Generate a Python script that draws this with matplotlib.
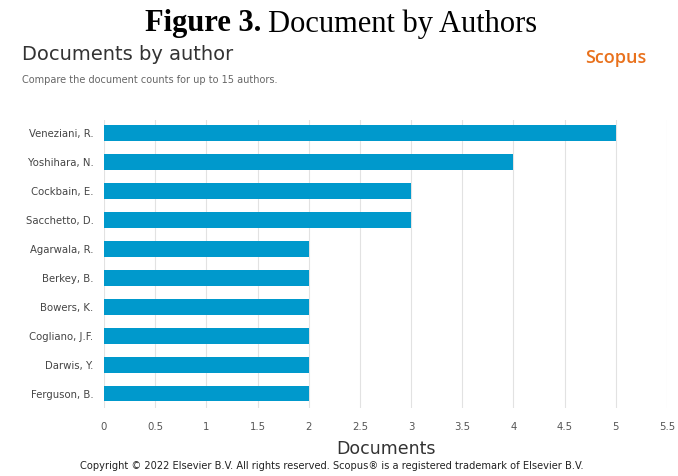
import matplotlib
matplotlib.use("Agg")
import matplotlib.pyplot as plt

authors = ["Veneziani, R.", "Yoshihara, N.", "Cockbain, E.", "Sacchetto, D.",
           "Agarwala, R.", "Berkey, B.", "Bowers, K.", "Cogliano, J.F.",
           "Darwis, Y.", "Ferguson, B."]
documents = [5, 4, 3, 3, 2, 2, 2, 2, 2, 2]
xticks = [0, 0.5, 1, 1.5, 2, 2.5, 3, 3.5, 4, 4.5, 5, 5.5]
xtick_labels = ["0", "0.5", "1", "1.5", "2", "2.5", "3", "3.5", "4", "4.5", "5", "5.5"]

W, H = 678, 476
fig = plt.figure(figsize=(W / 100, H / 100), dpi=100)
fig.patch.set_facecolor("white")

left, right, top, bottom = 104, 667, 120, 408
ax = fig.add_axes([left / W, 1 - bottom / H, (right - left) / W, (bottom - top) / H])

y = list(range(len(authors)))
ax.barh(y, documents, height=0.55, color="#0099cc", zorder=3)
ax.set_ylim(len(authors) - 0.5, -0.45)
ax.set_xlim(0, 5.5)
ax.set_yticks(y)
ax.set_yticklabels(authors, fontsize=7.3, color="#444444")
ax.set_xticks(xticks)
ax.set_xticklabels(xtick_labels, fontsize=7.3, color="#555555")
ax.tick_params(axis="x", length=0, pad=10)
ax.tick_params(axis="y", length=0, pad=7.5)
ax.grid(axis="x", color="#e2e2e2", linewidth=0.8, zorder=0)
for s in ax.spines.values():
    s.set_visible(False)
ax.set_xlabel("Documents", fontsize=12.5, color="#333333", labelpad=6)

t1 = fig.text(145 / W, 1 - 24 / H, "Figure 3.", fontsize=22, fontweight="bold",
              family="Liberation Serif", va="center", ha="left", color="black")
fig.canvas.draw()
bb = t1.get_window_extent()
fig.text(bb.x1 / W + 7 / W, 1 - 24 / H, "Document by Authors", fontsize=22,
         family="Liberation Serif", va="center", ha="left", color="black")

fig.text(22 / W, 1 - 55 / H, "Documents by author", fontsize=14, color="#333333",
         va="center", ha="left")
fig.text(646 / W, 1 - 58 / H, "Scopus", fontsize=13, color="#e9711c",
         va="center", ha="right", family="Open Sans", fontweight="semibold")
fig.text(22 / W, 1 - 80 / H, "Compare the document counts for up to 15 authors.",
         fontsize=7, color="#666666", va="center", ha="left")
fig.text(332 / W, 1 - 466 / H,
         "Copyright \u00a9 2022 Elsevier B.V. All rights reserved. Scopus\u00ae is a registered trademark of Elsevier B.V.",
         fontsize=7.1, color="#222222", va="center", ha="center")

fig.savefig("out.png", dpi=100)
